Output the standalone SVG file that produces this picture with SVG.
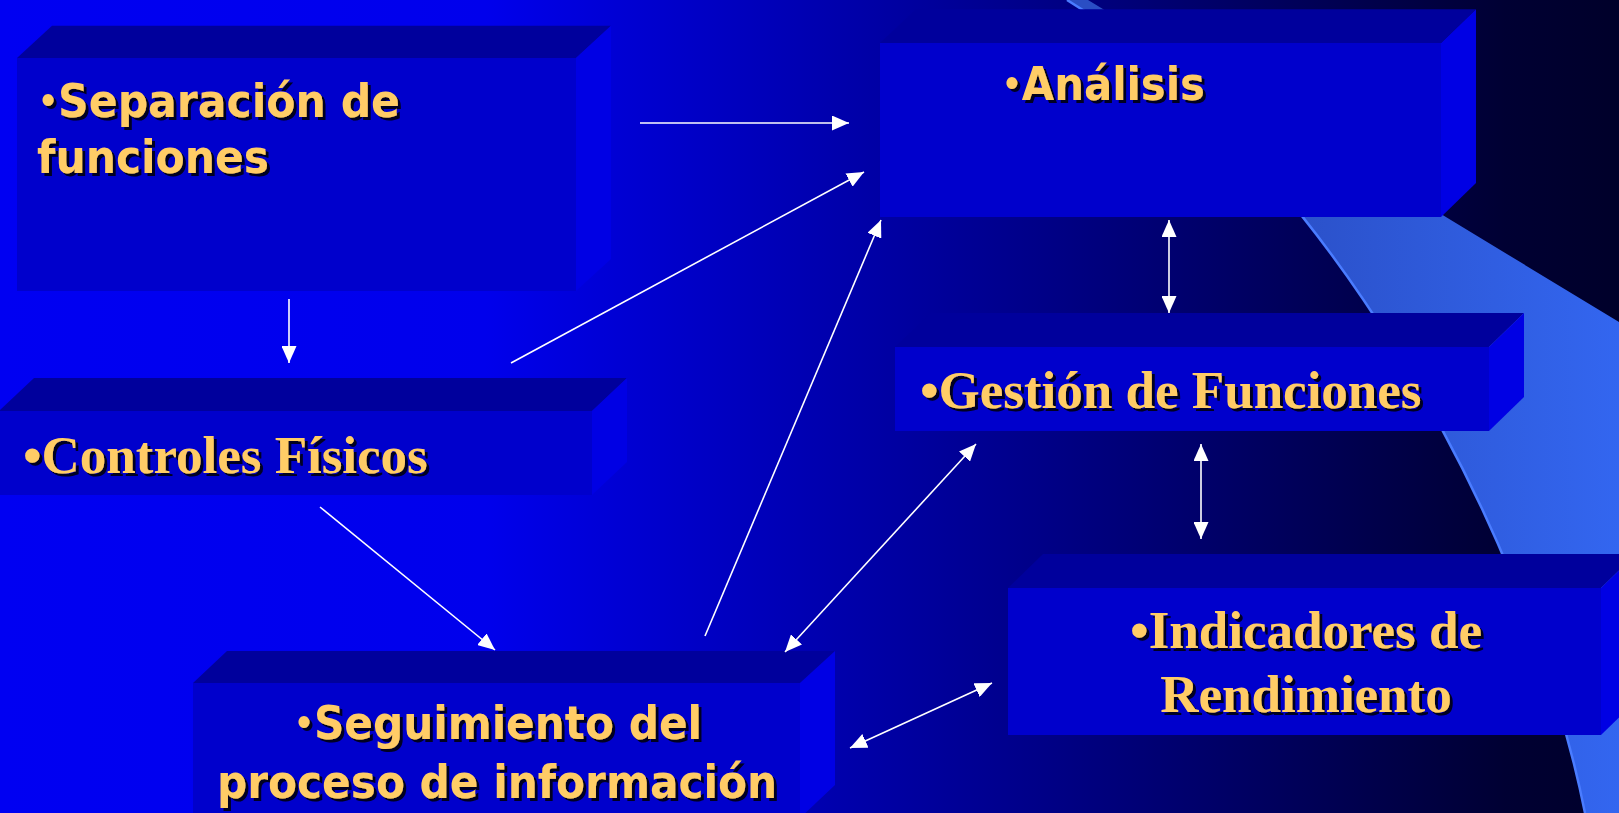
<svg xmlns="http://www.w3.org/2000/svg" width="1619" height="813" viewBox="0 0 1619 813">
<defs>
<linearGradient id="bg" gradientUnits="userSpaceOnUse" x1="0" y1="0" x2="1619" y2="0">
<stop offset="0" stop-color="#0000f2"/>
<stop offset="0.3" stop-color="#0000ec"/>
<stop offset="0.93" stop-color="#000033"/>
<stop offset="1" stop-color="#00002a"/>
</linearGradient>
<linearGradient id="band" gradientUnits="userSpaceOnUse" x1="1250" y1="0" x2="1619" y2="0">
<stop offset="0" stop-color="#2a4ec4"/>
<stop offset="1" stop-color="#3366f0"/>
</linearGradient>
<marker id="ah" markerUnits="userSpaceOnUse" markerWidth="17" markerHeight="15" refX="17" refY="7.5" orient="auto-start-reverse" viewBox="0 0 17 15">
<path d="M0,0 L17,7.5 L0,15 Z" fill="#ffffff"/>
</marker>
<filter id="sh">
<feFlood flood-color="#000022" result="f"/>
<feComposite in="f" in2="SourceAlpha" operator="in" result="s"/>
<feOffset in="s" dx="2.5" dy="2.5" result="o"/>
<feMerge><feMergeNode in="o"/><feMergeNode in="SourceGraphic"/></feMerge>
</filter>
</defs>
<style>
.top{fill:#00009c}
.front{fill:#0000cc}
.side{fill:#0000e4}
.sans{font-family:"DejaVu Sans Condensed","DejaVu Sans",sans-serif;font-weight:bold;font-size:46px;fill:#ffcc66}
.serif{font-family:"Liberation Serif","Times New Roman",serif;font-weight:bold;font-size:53px;fill:#ffcc66}
.b{font-size:34px}
.conn line{stroke:#ffffff;stroke-width:1.6;fill:none}
</style>

<g id="background">
<rect x="0" y="0" width="1619" height="813" fill="url(#bg)"/>
<path d="M1067,0 L1088,0 L1619,322 L1619,813 L1585,813 C1525,513 1314,150 1067,0 Z" fill="url(#band)"/>
<path d="M1067,0 C1314,150 1525,513 1585,813" fill="none" stroke="#4a7cff" stroke-width="2.5"/>
</g>

<g id="node-separacion">
<polygon class="top" points="17,58 52,25.7 611,25.7 576,58"/>
<rect class="front" x="17" y="58" width="559" height="233"/>
<polygon class="side" points="576,58 611,25.7 611,259 576,291"/>
<g filter="url(#sh)">
<text class="sans" x="38" y="117" textLength="362" lengthAdjust="spacingAndGlyphs"><tspan class="b" dy="-4">•</tspan><tspan dy="4">Separación de</tspan></text>
<text class="sans" x="37" y="173" textLength="232" lengthAdjust="spacingAndGlyphs">funciones</text>
</g>
</g>

<g id="node-analisis">
<polygon class="top" points="880,43 916,9.3 1476,9.3 1441,43"/>
<rect class="front" x="880" y="43" width="561" height="174"/>
<polygon class="side" points="1441,43 1476,9.3 1476,183 1441,217"/>
<g filter="url(#sh)">
<text class="sans" x="1002" y="100" textLength="203" lengthAdjust="spacingAndGlyphs"><tspan class="b" dy="-4">•</tspan><tspan dy="4">Análisis</tspan></text>
</g>
</g>

<g id="node-controles">
<polygon class="top" points="-1,411 34,378 627,378 592,411"/>
<rect class="front" x="-1" y="411" width="593" height="84"/>
<polygon class="side" points="592,411 627,378 627,462 592,495"/>
<g filter="url(#sh)">
<text class="serif" x="23" y="473">•Controles Físicos</text>
</g>
</g>

<g id="node-gestion">
<polygon class="top" points="895,347 931,313 1524,313 1489,347"/>
<rect class="front" x="895" y="347" width="594" height="84"/>
<polygon class="side" points="1489,347 1524,313 1524,397 1489,431"/>
<g filter="url(#sh)">
<text class="serif" x="920" y="408">•Gestión de Funciones</text>
</g>
</g>

<g id="node-indicadores">
<polygon class="top" points="1008,588 1043,554 1636,554 1601,588"/>
<rect class="front" x="1008" y="588" width="593" height="147"/>
<polygon class="side" points="1601,588 1636,554 1636,701 1601,735"/>
<g filter="url(#sh)">
<text class="serif" x="1306" y="648" text-anchor="middle">•Indicadores de</text>
<text class="serif" x="1306" y="712" text-anchor="middle">Rendimiento</text>
</g>
</g>

<g id="node-seguimiento">
<polygon class="top" points="193,683 227,651 835,651 800,683"/>
<rect class="front" x="193" y="683" width="607" height="140"/>
<polygon class="side" points="800,683 835,651 835,785 800,818"/>
<g filter="url(#sh)">
<text class="sans" x="294" y="739" textLength="408" lengthAdjust="spacingAndGlyphs"><tspan class="b" dy="-4">•</tspan><tspan dy="4">Seguimiento del</tspan></text>
<text class="sans" x="217" y="798" textLength="560" lengthAdjust="spacingAndGlyphs">proceso de información</text>
</g>
</g>

<g id="connectors" class="conn">
<line x1="640" y1="123" x2="849" y2="123" marker-end="url(#ah)"/>
<line x1="511" y1="363" x2="864" y2="172" marker-end="url(#ah)"/>
<line x1="289" y1="299" x2="289" y2="363" marker-end="url(#ah)"/>
<line x1="705" y1="636" x2="881" y2="220" marker-end="url(#ah)"/>
<line x1="320" y1="507" x2="495" y2="650" marker-end="url(#ah)"/>
<line x1="785" y1="652" x2="976" y2="444" marker-start="url(#ah)" marker-end="url(#ah)"/>
<line x1="1169" y1="220" x2="1169" y2="313" marker-start="url(#ah)" marker-end="url(#ah)"/>
<line x1="1201" y1="444" x2="1201" y2="539" marker-start="url(#ah)" marker-end="url(#ah)"/>
<line x1="850" y1="748" x2="992" y2="683" marker-start="url(#ah)" marker-end="url(#ah)"/>
</g>
</svg>
